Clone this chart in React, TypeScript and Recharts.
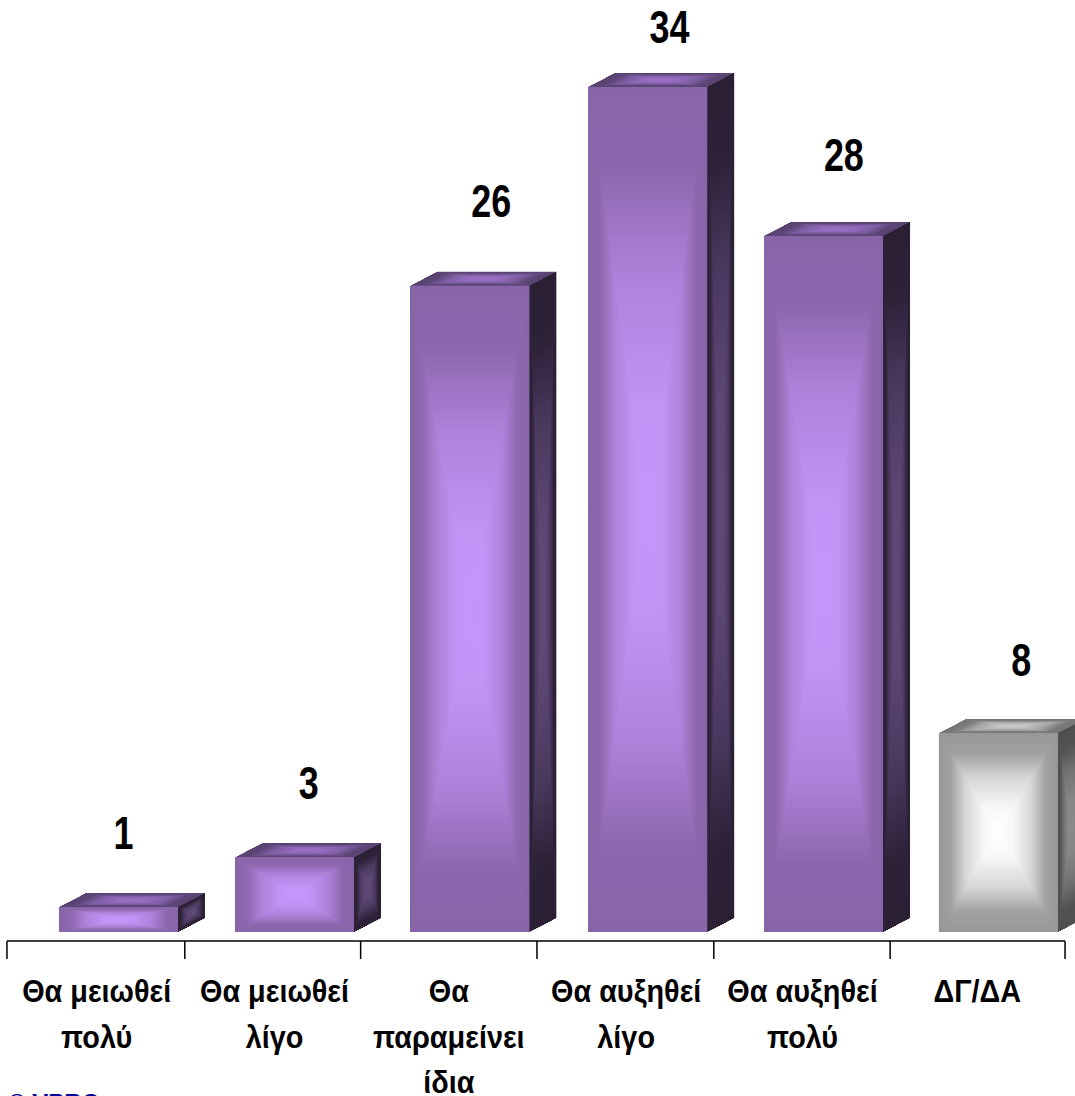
import { BarChart, Bar, XAxis, YAxis, LabelList } from "recharts";

const categories = [
  "Θα μειωθεί πολύ",
  "Θα μειωθεί λίγο",
  "Θα παραμείνει ίδια",
  "Θα αυξηθεί λίγο",
  "Θα αυξηθεί πολύ",
  "ΔΓ/ΔΑ",
];
const categoryLines = [
  ["Θα μειωθεί", "πολύ"],
  ["Θα μειωθεί", "λίγο"],
  ["Θα", "παραμείνει", "ίδια"],
  ["Θα αυξηθεί", "λίγο"],
  ["Θα αυξηθεί", "πολύ"],
  ["ΔΓ/ΔΑ"],
];
const values = [1, 3, 26, 34, 28, 8];

const data = categories.map((name, i) => ({ name, value: values[i] }));

// layout tweaks, the source chart is not quite regular
const BAR_NUDGE = [23, 22.7, 21.7, 23.2, 22.7, 21.2];
const LABEL_DX = [28, 37, 43, 45, 43, 44];
const LABEL_DY = [58, 58, 69, 44, 65, 57];
const TICK_NUDGE = [0, 1.5, 1, 1, 1.5, 1.5];
const TEXT_NUDGE = [1.5, 3, 1, 2, 2, 0.5];
const DEPTH_X = 27;
const DEPTH_Y = 14;

const PURPLE = {
  front: ["#8864a8", "#c796fc"],
  side: ["#2a1f33", "#604a7a"],
  top: ["#574270", "#9a70c6"],
};
const GRAY = {
  front: ["#989898", "#ffffff"],
  side: ["#4e4e4e", "#8c8c8c"],
  top: ["#747474", "#c8c8c8"],
};

type Pt = [number, number];

const mix = (a: string, b: string, t: number) => {
  const ch = (s: string, i: number) => parseInt(s.slice(1 + i * 2, 3 + i * 2), 16);
  const out = [0, 1, 2].map((i) => Math.round(ch(a, i) + (ch(b, i) - ch(a, i)) * t));
  return `rgb(${out.join(",")})`;
};

const PROFILE: Pt[] = [
  [0, 0],
  [0.2, 0.08],
  [0.45, 0.6],
  [0.75, 0.92],
  [1, 1],
];

// rectangular "path gradient": one triangle per edge, all meeting in the middle
const Face = ({ id, pts, colors }: { id: string; pts: Pt[]; colors: string[] }) => {
  const cx = pts.reduce((s, p) => s + p[0], 0) / 4;
  const cy = pts.reduce((s, p) => s + p[1], 0) / 4;
  return (
    <g>
      <polygon points={pts.map((p) => p.join(",")).join(" ")} fill={mix(colors[0], colors[1], 0.3)} />
      {pts.map((a, i) => {
        const b = pts[(i + 1) % 4];
        const ex = b[0] - a[0];
        const ey = b[1] - a[1];
        const t = ((cx - a[0]) * ex + (cy - a[1]) * ey) / (ex * ex + ey * ey);
        const gid = `${id}-${i}`;
        return (
          <g key={gid}>
            <defs>
              <linearGradient
                id={gid}
                gradientUnits="userSpaceOnUse"
                x1={a[0] + ex * t}
                y1={a[1] + ey * t}
                x2={cx}
                y2={cy}
              >
                {PROFILE.map(([o, m]) => (
                  <stop key={o} offset={o} stopColor={mix(colors[0], colors[1], m)} />
                ))}
              </linearGradient>
            </defs>
            <polygon
              points={`${a.join(",")} ${b.join(",")} ${cx},${cy}`}
              fill={`url(#${gid})`}
              shapeRendering="crispEdges"
            />
          </g>
        );
      })}
    </g>
  );
};

const Box = (props: any) => {
  const { x, y, width, height, index, name } = props;
  const pal = name === "ΔΓ/ΔΑ" ? GRAY : PURPLE;
  const l = x + BAR_NUDGE[index];
  const r = l + width;
  const b = y + height;
  return (
    <g>
      <Face
        id={`top${index}`}
        colors={pal.top}
        pts={[[l, y], [l + DEPTH_X, y - DEPTH_Y], [r + DEPTH_X, y - DEPTH_Y], [r, y]]}
      />
      <Face
        id={`side${index}`}
        colors={pal.side}
        pts={[[r, y], [r + DEPTH_X, y - DEPTH_Y], [r + DEPTH_X, b - DEPTH_Y], [r, b]]}
      />
      <Face id={`front${index}`} colors={pal.front} pts={[[l, y], [r, y], [r, b], [l, b]]} />
    </g>
  );
};

const ValueLabel = (props: any) => {
  const { x, y, width, value, index } = props;
  const px = x + width / 2 + LABEL_DX[index];
  const py = y - LABEL_DY[index];
  return (
    <text
      transform={`translate(${px},${py}) scale(0.78,1)`}
      textAnchor="middle"
      fontFamily="'Liberation Sans'"
      fontWeight="bold"
      fontSize={46}
      fill="#000"
    >
      {value}
    </text>
  );
};

const CategoryTick = (props: any) => {
  const { x, index, visibleTicksCount } = props;
  const half = 88.2;
  const lines = categoryLines[index] ?? [];
  const tx = x - half + TICK_NUDGE[index];
  return (
    <g>
      <line x1={tx} x2={tx} y1={941} y2={959} stroke="#000" strokeWidth={1.5} />
      {index === (visibleTicksCount ?? 6) - 1 && (
        <line x1={x + half} x2={x + half} y1={941} y2={959} stroke="#000" strokeWidth={1.5} />
      )}
      {lines.map((t: string, i: number) => (
        <text
          key={t}
          transform={`translate(${x + TEXT_NUDGE[index]},${1002 + i * 45.5}) scale(0.93,1)`}
          textAnchor="middle"
          fontFamily="'Liberation Sans'"
          fontWeight="bold"
          fontSize={31}
          fill="#000"
        >
          {t}
        </text>
      ))}
    </g>
  );
};

export default function App() {
  return (
    <div style={{ position: "absolute", left: 0, top: 0, width: 1075, height: 1096, overflow: "hidden" }}>
      <BarChart
        width={1075}
        height={1096}
        data={data}
        margin={{ top: 0, right: 10, bottom: 0, left: 7 }}
        barSize={119}
      >
        <XAxis
          dataKey="name"
          height={155}
          interval={0}
          tickLine={false}
          axisLine={{ stroke: "#000", strokeWidth: 1.5 }}
          tick={<CategoryTick />}
        />
        <YAxis hide domain={[-0.362, 37.5]} allowDataOverflow />
        <Bar dataKey="value" isAnimationActive={false} shape={<Box />}>
          <LabelList dataKey="value" content={<ValueLabel />} />
        </Bar>
      </BarChart>
      <div
        style={{
          position: "absolute",
          left: 8,
          top: 1089,
          fontFamily: "'Liberation Sans'",
          fontWeight: "bold",
          fontSize: 24,
          lineHeight: "28px",
          color: "#00009c",
          whiteSpace: "nowrap",
        }}
      >
        © VPRC
      </div>
    </div>
  );
}
